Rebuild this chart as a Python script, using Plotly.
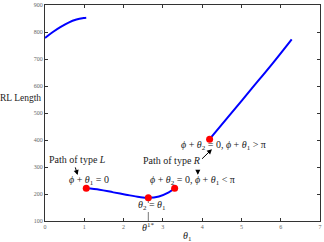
import plotly.graph_objects as go

# Data
seg1_x = [0.0, 0.2, 0.4, 0.6, 0.8, 1.0, 1.05]
seg1_y = [778, 800, 819, 835, 846, 852, 853]

seg2_x = [1.05, 1.39, 1.74, 2.06, 2.40, 2.63, 2.90, 3.15, 3.30]
seg2_y = [221, 216, 206, 197.6, 189, 186, 191, 206, 221]

seg3_x = [4.19, 4.70, 5.26, 5.80, 6.28]
seg3_y = [403, 492, 590, 685, 773]

dot_x = [1.05, 2.63, 3.30, 4.19]
dot_y = [221, 186, 221, 403]

theta_star = 2.63
x_ticks = [0, 1, 2, 3, 4, 5, 6, 7]
y_ticks = [100, 200, 300, 400, 500, 600, 700, 800, 900]

SERIF = "Liberation Serif"
BLUE = "#0000ff"
RED = "#ff0000"

fig = go.Figure()
for xs, ys in [(seg1_x, seg1_y), (seg2_x, seg2_y), (seg3_x, seg3_y)]:
    fig.add_trace(go.Scatter(x=xs, y=ys, mode="lines",
                             line=dict(color=BLUE, width=2, shape="spline"),
                             showlegend=False, hoverinfo="skip"))

fig.add_trace(go.Scatter(x=[theta_star, theta_star], y=[100, dot_y[1]], mode="lines",
                         line=dict(color="#555555", width=0.8, dash="dash"),
                         showlegend=False, hoverinfo="skip"))

fig.add_trace(go.Scatter(x=dot_x, y=dot_y, mode="markers",
                         marker=dict(color=RED, size=7, line=dict(width=0)),
                         showlegend=False, hoverinfo="skip"))

tfont = dict(family=SERIF, size=10, color="#222222")

def txt(x, y, s, **kw):
    fig.add_annotation(x=x, y=y, text=s, showarrow=False, font=tfont,
                       xanchor="center", yanchor="middle", **kw)

def arrow(x0, y0, x1, y1):
    fig.add_annotation(x=x1, y=y1, ax=x0, ay=y0, xref="x", yref="y",
                       axref="x", ayref="y", text="", showarrow=True,
                       arrowhead=2, arrowsize=1, arrowwidth=1, arrowcolor="#000000")

txt(0.83, 326, "Path of type <i>L</i>")
arrow(0.76, 304, 0.83, 270)
txt(1.11, 249, "<i>ϕ</i> + <i>θ</i><sub>1</sub> = 0")
txt(2.73, 158, "<i>θ</i><sub>2</sub> = <i>θ</i><sub>1</sub>")
txt(3.75, 249, "<i>ϕ</i> + <i>θ</i><sub>2</sub> = 0, <i>ϕ</i> + <i>θ</i><sub>1</sub> &lt; π")
txt(3.22, 323, "Path of type <i>R</i>")
arrow(3.89, 293, 3.89, 271)
arrow(3.96, 325, 4.25, 366)
txt(4.55, 381, "<i>ϕ</i> + <i>θ</i><sub>2</sub> = 0, <i>ϕ</i> + <i>θ</i><sub>1</sub> &gt; π")

# theta 1* tick label
fig.add_annotation(x=theta_star, y=-0.03, xref="x", yref="paper", text="<i>θ</i><sup>1*</sup>",
                   showarrow=False, font=tfont, xanchor="center", yanchor="middle")
# axis titles
fig.add_annotation(x=3.62, y=-0.072, xref="x", yref="paper", text="<i>θ</i><sub>1</sub>",
                   showarrow=False, font=tfont, xanchor="center", yanchor="middle")
fig.add_annotation(x=-0.008, y=0.569, xref="paper", yref="paper", text="RL Length",
                   showarrow=False, font=dict(family=SERIF, size=9.5, color="#222222"),
                   xanchor="right", yanchor="middle")

axis_common = dict(showgrid=False, zeroline=False, showline=True, linecolor="#333333",
                   linewidth=1, mirror="ticks", ticks="inside", ticklen=3,
                   tickcolor="#333333", tickfont=dict(family=SERIF, size=6, color="#666666"))

fig.update_xaxes(range=[0, 7], tickvals=x_ticks, **axis_common)
fig.update_yaxes(range=[100, 900], tickvals=y_ticks, **axis_common)

fig.update_layout(width=324, height=242, margin=dict(l=45, r=2, t=3, b=21),
                  plot_bgcolor="white", paper_bgcolor="white")

fig.write_html("out.html", config={"displayModeBar": False},
               post_script="document.body.style.margin='0';document.body.style.overflow='hidden';")
